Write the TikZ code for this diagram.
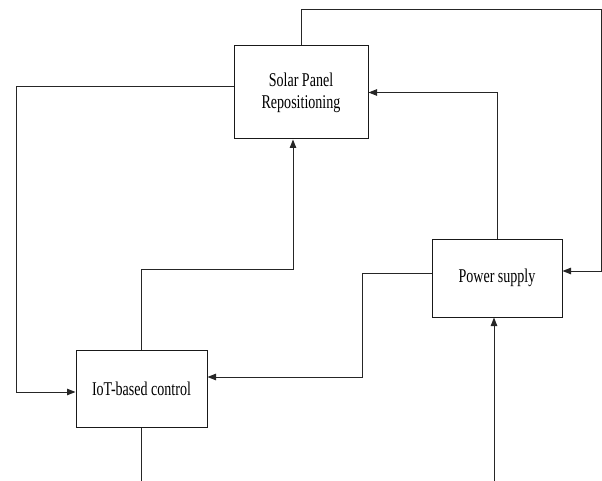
\documentclass[tikz,border=0pt]{standalone}
\usepackage{fontspec}
\setmainfont{Liberation Serif}[FakeStretch=0.72]
\usetikzlibrary{arrows.meta}
\begin{document}
\begin{tikzpicture}[x=1pt,y=-1pt,
  block/.style={draw=black!90,line width=1pt,fill=white,align=center,
    inner sep=0pt,font=\fontsize{19.5}{22}\selectfont},
  link/.style={draw=black!85,line width=1pt},
  flow/.style={link,-{Triangle[length=8.5pt,width=6.5pt]}}]
\useasboundingbox (0,0) rectangle (602,481);

% blocks
\node[block,minimum width=134pt,minimum height=93pt] (solar) at (301,92.5) {Solar Panel\\Repositioning};
\node[block,minimum width=130pt,minimum height=78pt] (power) at (497,278) {Power supply};
\node[block,minimum width=131pt,minimum height=77pt] (iot) at (141.5,388.5) {IoT-based control};

% routing corners
\coordinate (topright) at (601,9.5);
\coordinate (leftbus) at (16,0);
\coordinate (midbus) at (362,0);
\coordinate (risebus) at (293,269);
\coordinate (floor) at (0,481);
\coordinate (feed) at (494,481);

% solar -> power (over the top)
\draw[flow] (solar.north) |- (topright) |- ([yshift=7pt]power.east);
% solar -> IoT (down the left side)
\draw[flow] ([yshift=5.5pt]solar.west) -| ([yshift=-3.5pt]leftbus |- iot.west) -- ([yshift=-3.5pt]iot.west);
% power -> solar
\draw[flow] (power.north) |- (solar.east);
% power -> IoT
\draw[flow] ([yshift=5pt]power.west) -| ([yshift=11.5pt]midbus |- iot.east) -- ([yshift=11.5pt]iot.east);
% IoT -> solar
\draw[flow] (iot.north) |- (risebus) -- ([xshift=-8pt]solar.south);
% IoT output
\draw[link] (iot.south) -- (iot.south |- floor);
% external input to power
\draw[flow] (feed) -- ([xshift=-3pt]power.south);
\end{tikzpicture}
\end{document}
